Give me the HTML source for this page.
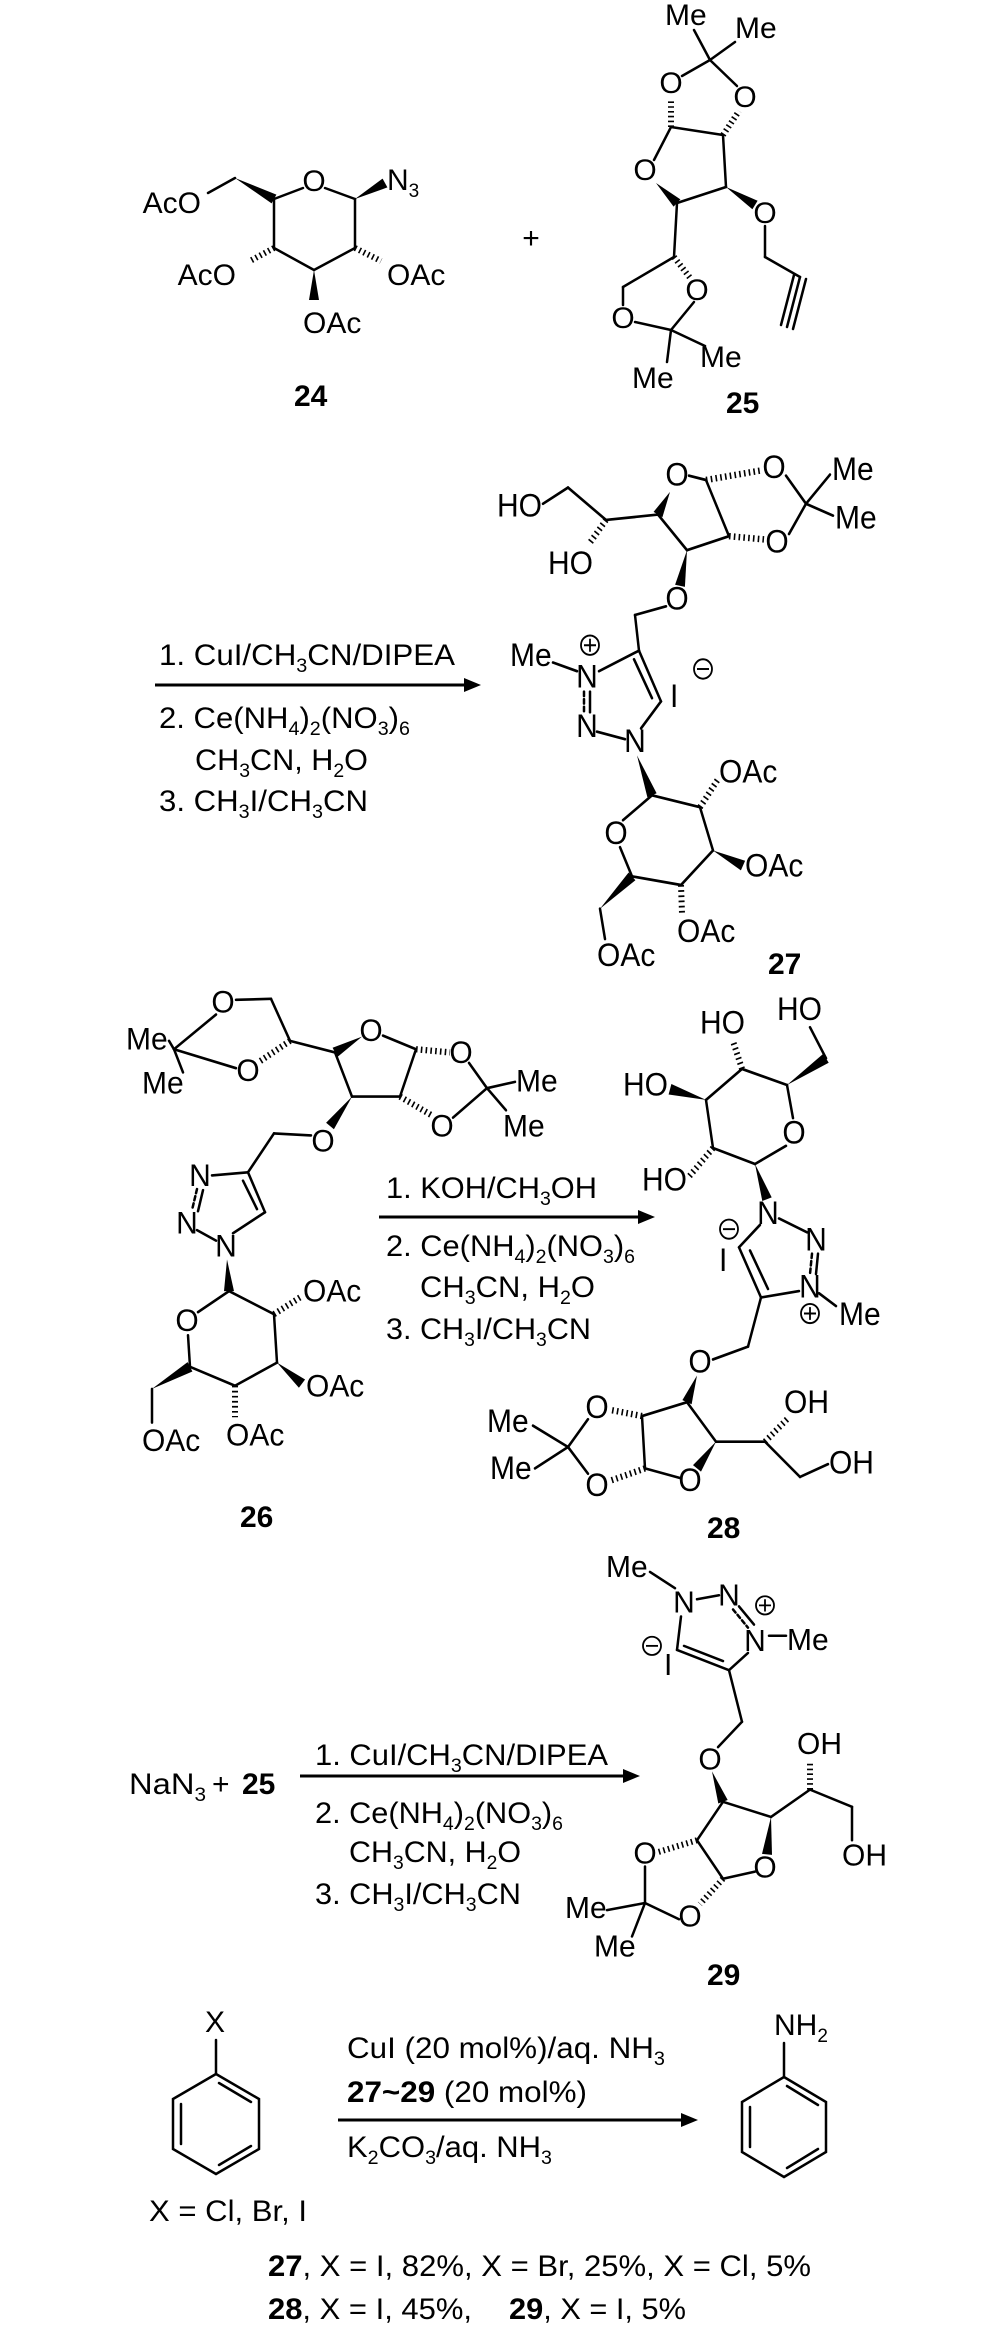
<!DOCTYPE html>
<html><head><meta charset="utf-8"><style>
html,body{margin:0;padding:0;background:#fff}
svg{display:block}
text{font-family:"Liberation Sans",sans-serif;font-size:30px;fill:#000}
.b{font-weight:bold}
.ln{stroke:#000;stroke-width:2.5;fill:none;stroke-linecap:round}
.hs{stroke:#000;stroke-width:6;stroke-dasharray:1.6 3.2;fill:none}
.ch{stroke:#000;stroke-width:1.8;fill:none}
</style></head><body>
<svg width="1000" height="2325" viewBox="0 0 1000 2325" xmlns="http://www.w3.org/2000/svg">

<!-- ===== 24 ===== -->
<g>
<g class="ln">
<line x1="303" y1="188" x2="274" y2="199"/><line x1="325" y1="188" x2="355" y2="199"/>
<line x1="274" y1="199" x2="274" y2="248"/><line x1="355" y1="199" x2="355" y2="248"/>
<line x1="274" y1="248" x2="314" y2="270"/><line x1="355" y1="248" x2="314" y2="270"/>
<line x1="235" y1="178" x2="208" y2="193"/>
</g>
<polygon points="235,178 271.6,203.4 276.4,194.6"/>
<polygon points="355,199 387.4,187.4 382.6,178.6"/>
<polygon points="314,270 309,300 319,300"/>
<g class="hs"><line x1="274" y1="248" x2="250" y2="261"/><line x1="355" y1="248" x2="381" y2="261"/></g>
<text x="314" y="191" text-anchor="middle">O</text>
<text x="201" y="213" text-anchor="end">AcO</text>
<text x="387" y="190">N<tspan font-size="19" dy="7">3</tspan></text>
<text x="236" y="285" text-anchor="end">AcO</text>
<text x="387" y="285">OAc</text>
<text x="303" y="333">OAc</text>
<text x="294" y="406" class="b">24</text>
<text x="531" y="248" text-anchor="middle">+</text>
</g>

<!-- ===== 25 ===== -->
<g>
<g class="ln">
<line x1="710" y1="60" x2="694" y2="30"/><line x1="710" y1="60" x2="735" y2="42"/>
<line x1="710" y1="60" x2="682" y2="76"/><line x1="710" y1="60" x2="737" y2="86"/>
<line x1="671" y1="127" x2="723" y2="135"/><line x1="723" y1="135" x2="726" y2="187"/>
<line x1="726" y1="187" x2="677" y2="203"/><line x1="654" y1="160" x2="671" y2="127"/>
<line x1="765" y1="226" x2="765" y2="257"/><line x1="765" y1="257" x2="800" y2="277"/>
<line x1="800" y1="277" x2="787" y2="327"/><line x1="806" y1="279" x2="793" y2="329"/><line x1="794" y1="275" x2="781" y2="325"/>
<line x1="677" y1="203" x2="674" y2="257"/><line x1="674" y1="257" x2="623" y2="287"/>
<line x1="623" y1="287" x2="623" y2="305"/><line x1="635" y1="322" x2="671" y2="330"/>
<line x1="694" y1="302" x2="671" y2="330"/><line x1="671" y1="330" x2="705" y2="346"/>
<line x1="671" y1="330" x2="667" y2="362"/>
</g>
<polygon points="656,183 673.6,206.6 680.4,199.4"/>
<polygon points="726,187 752.4,209.3 757.6,200.7"/>
<g class="hs"><line x1="671" y1="127" x2="671" y2="99"/><line x1="723" y1="135" x2="739" y2="111"/><line x1="674" y1="257" x2="691" y2="279"/></g>
<text x="665" y="25">Me</text><text x="735" y="38">Me</text>
<text x="671" y="93" text-anchor="middle">O</text><text x="745" y="107" text-anchor="middle">O</text>
<text x="645" y="180" text-anchor="middle">O</text><text x="765" y="223" text-anchor="middle">O</text>
<text x="697" y="300" text-anchor="middle">O</text><text x="623" y="328" text-anchor="middle">O</text>
<text x="700" y="367">Me</text><text x="632" y="388">Me</text>
<text x="726" y="413" class="b">25</text>
</g>

<!-- ===== 27 ===== -->
<g transform="matrix(1 0 0 1.08 0 -33)">
<g class="ln">
<line x1="543" y1="497" x2="568" y2="482"/><line x1="568" y1="482" x2="606" y2="512"/>
<line x1="606" y1="512" x2="658" y2="507"/>
<line x1="689" y1="471" x2="706" y2="475"/><line x1="706" y1="475" x2="729" y2="527"/>
<line x1="729" y1="527" x2="687" y2="540"/><line x1="687" y1="540" x2="658" y2="507"/>
<line x1="786" y1="471" x2="806" y2="497"/><line x1="789" y1="525" x2="806" y2="497"/>
<line x1="806" y1="497" x2="830" y2="470"/><line x1="806" y1="497" x2="833" y2="508"/>
<line x1="666" y1="592" x2="635" y2="600"/><line x1="635" y1="600" x2="639" y2="633"/>
<line x1="639" y1="633" x2="599" y2="652"/>
<line x1="584" y1="671" x2="584" y2="690" stroke-dasharray="4 3"/><line x1="590" y1="671" x2="590" y2="690"/>
<line x1="597" y1="708" x2="625" y2="715"/><line x1="641" y1="705" x2="661" y2="680"/>
<line x1="661" y1="680" x2="639" y2="633"/><line x1="652" y1="677" x2="634" y2="641"/>
<line x1="553" y1="644" x2="577" y2="652"/>
<line x1="652" y1="767" x2="700" y2="778"/><line x1="700" y1="778" x2="713" y2="818"/>
<line x1="713" y1="818" x2="681" y2="850"/><line x1="681" y1="850" x2="632" y2="842"/>
<line x1="632" y1="842" x2="620" y2="815"/><line x1="623" y1="790" x2="652" y2="767"/>
<line x1="600" y1="872" x2="605" y2="900"/>
</g>
<polygon points="670,486 653.6,504.5 662.4,509.5"/>
<polygon points="687,540 675.1,572 684.9,574"/>
<polygon points="637,730 647.4,768.9 656.6,765.1"/>
<polygon points="713,818 740.9,836.5 745.1,827.5"/>
<polygon points="600,872 635.4,845.6 628.6,838.4"/>
<g class="hs">
<line x1="606" y1="512" x2="590" y2="533"/><line x1="706" y1="475" x2="762" y2="466"/><line x1="729" y1="527" x2="764" y2="530"/>
<line x1="700" y1="778" x2="718" y2="752"/><line x1="681" y1="850" x2="682" y2="876"/>
</g>
<g class="ch"><circle cx="590" cy="628" r="9"/><path d="M584 628h12M590 622v12"/>
<circle cx="703" cy="650" r="9"/><path d="M697 650h12"/></g>
<text x="497" y="509">HO</text><text x="548" y="562">HO</text>
<text x="677" y="480" text-anchor="middle">O</text><text x="774" y="473" text-anchor="middle">O</text>
<text x="777" y="542" text-anchor="middle">O</text>
<text x="832" y="475">Me</text><text x="835" y="520">Me</text>
<text x="677" y="595" text-anchor="middle">O</text>
<text x="510" y="647">Me</text>
<text x="587" y="667" text-anchor="middle">N</text><text x="587" y="713" text-anchor="middle">N</text>
<text x="635" y="727" text-anchor="middle">N</text>
<text x="670" y="685">I</text>
<text x="616" y="812" text-anchor="middle">O</text>
<text x="719" y="755">OAc</text><text x="745" y="842">OAc</text>
<text x="677" y="903">OAc</text><text x="597" y="925">OAc</text>
</g>
<text x="768" y="974" class="b">27</text>

<!-- reagents 27 -->
<line x1="155" y1="685" x2="468" y2="685" stroke="#000" stroke-width="3"/>
<polygon points="481,685 464,678 464,692"/>
<text x="159" y="665" textLength="296" lengthAdjust="spacingAndGlyphs">1. CuI/CH<tspan font-size="19" dy="7">3</tspan><tspan dy="-7">CN/DIPEA</tspan></text>
<text x="159" y="728" textLength="251" lengthAdjust="spacingAndGlyphs">2. Ce(NH<tspan font-size="19" dy="7">4</tspan><tspan dy="-7">)</tspan><tspan font-size="19" dy="7">2</tspan><tspan dy="-7">(NO</tspan><tspan font-size="19" dy="7">3</tspan><tspan dy="-7">)</tspan><tspan font-size="19" dy="7">6</tspan></text>
<text x="195" y="770" textLength="173" lengthAdjust="spacingAndGlyphs">CH<tspan font-size="19" dy="7">3</tspan><tspan dy="-7">CN, H</tspan><tspan font-size="19" dy="7">2</tspan><tspan dy="-7">O</tspan></text>
<text x="159" y="811" textLength="209" lengthAdjust="spacingAndGlyphs">3. CH<tspan font-size="19" dy="7">3</tspan><tspan dy="-7">I/CH</tspan><tspan font-size="19" dy="7">3</tspan><tspan dy="-7">CN</tspan></text>

<!-- ===== 26 ===== -->
<g transform="matrix(1 0 0 1.0515 0 -44.3)">
<g class="ln">
<line x1="236" y1="993" x2="271" y2="992"/><line x1="271" y1="992" x2="290" y2="1032"/>
<line x1="216" y1="1007" x2="174" y2="1040"/><line x1="236" y1="1058" x2="174" y2="1040"/>
<line x1="174" y1="1040" x2="169" y2="1032"/><line x1="174" y1="1040" x2="183" y2="1062"/>
<line x1="290" y1="1032" x2="335" y2="1043"/>
<line x1="383" y1="1027" x2="416" y2="1040"/><line x1="416" y1="1040" x2="400" y2="1085"/>
<line x1="400" y1="1085" x2="352" y2="1085"/><line x1="352" y1="1085" x2="335" y2="1043"/>
<line x1="469" y1="1053" x2="487" y2="1077"/><line x1="453" y1="1105" x2="487" y2="1077"/>
<line x1="487" y1="1077" x2="515" y2="1071"/><line x1="487" y1="1077" x2="506" y2="1098"/>
<line x1="311" y1="1122" x2="274" y2="1120"/><line x1="274" y1="1120" x2="248" y2="1157"/>
<line x1="248" y1="1157" x2="212" y2="1160"/>
<line x1="197" y1="1173" x2="192" y2="1193" stroke-dasharray="4 3"/><line x1="203" y1="1174" x2="198" y2="1194"/>
<line x1="197" y1="1212" x2="216" y2="1222"/><line x1="233" y1="1215" x2="265" y2="1195"/>
<line x1="265" y1="1195" x2="248" y2="1157"/><line x1="257" y1="1192" x2="243" y2="1165"/>
<line x1="229" y1="1270" x2="274" y2="1292"/><line x1="274" y1="1292" x2="277" y2="1338"/>
<line x1="277" y1="1338" x2="235" y2="1360"/><line x1="235" y1="1360" x2="190" y2="1342"/>
<line x1="190" y1="1342" x2="188" y2="1312"/><line x1="198" y1="1290" x2="229" y2="1270"/>
<line x1="152" y1="1363" x2="152" y2="1395"/>
</g>
<polygon points="362,1028 332.6,1038.6 337.4,1047.4"/>
<polygon points="352,1085 326.1,1109.9 333.9,1116.1"/>
<polygon points="227,1240 224,1270 234,1270"/>
<polygon points="277,1338 298.9,1361.9 305.1,1354.1"/>
<polygon points="152,1363 192.4,1346.4 187.6,1337.6"/>
<g class="hs">
<line x1="290" y1="1032" x2="259" y2="1052"/><line x1="416" y1="1040" x2="450" y2="1043"/><line x1="400" y1="1085" x2="432" y2="1103"/>
<line x1="274" y1="1292" x2="300" y2="1276"/><line x1="235" y1="1360" x2="235" y2="1390"/>
</g>
<text x="223" y="1005" text-anchor="middle">O</text><text x="248" y="1070" text-anchor="middle">O</text>
<text x="126" y="1040">Me</text><text x="142" y="1082">Me</text>
<text x="371" y="1032" text-anchor="middle">O</text><text x="461" y="1053" text-anchor="middle">O</text>
<text x="442" y="1123" text-anchor="middle">O</text>
<text x="516" y="1080">Me</text><text x="503" y="1123">Me</text>
<text x="323" y="1137" text-anchor="middle">O</text>
<text x="200" y="1170" text-anchor="middle">N</text><text x="187" y="1215" text-anchor="middle">N</text>
<text x="226" y="1237" text-anchor="middle">N</text>
<text x="187" y="1308" text-anchor="middle">O</text>
<text x="303" y="1280">OAc</text><text x="306" y="1370">OAc</text>
<text x="226" y="1417">OAc</text><text x="142" y="1422">OAc</text>
</g>
<text x="240" y="1527" class="b">26</text>

<!-- reagents 28 -->
<line x1="379" y1="1217" x2="642" y2="1217" stroke="#000" stroke-width="3"/>
<polygon points="655,1217 638,1210 638,1224"/>
<text x="386" y="1198" textLength="211" lengthAdjust="spacingAndGlyphs">1. KOH/CH<tspan font-size="19" dy="7">3</tspan><tspan dy="-7">OH</tspan></text>
<text x="386" y="1256" textLength="249" lengthAdjust="spacingAndGlyphs">2. Ce(NH<tspan font-size="19" dy="7">4</tspan><tspan dy="-7">)</tspan><tspan font-size="19" dy="7">2</tspan><tspan dy="-7">(NO</tspan><tspan font-size="19" dy="7">3</tspan><tspan dy="-7">)</tspan><tspan font-size="19" dy="7">6</tspan></text>
<text x="420" y="1297" textLength="175" lengthAdjust="spacingAndGlyphs">CH<tspan font-size="19" dy="7">3</tspan><tspan dy="-7">CN, H</tspan><tspan font-size="19" dy="7">2</tspan><tspan dy="-7">O</tspan></text>
<text x="386" y="1339" textLength="205" lengthAdjust="spacingAndGlyphs">3. CH<tspan font-size="19" dy="7">3</tspan><tspan dy="-7">I/CH</tspan><tspan font-size="19" dy="7">3</tspan><tspan dy="-7">CN</tspan></text>

<!-- ===== 28 ===== -->
<g transform="matrix(1 0 0 1.068 0 -61)">
<g class="ln">
<line x1="810" y1="1019" x2="826" y2="1048"/>
<line x1="787" y1="1073" x2="742" y2="1058"/><line x1="742" y1="1058" x2="706" y2="1087"/>
<line x1="706" y1="1087" x2="713" y2="1132"/><line x1="713" y1="1132" x2="755" y2="1147"/>
<line x1="787" y1="1073" x2="793" y2="1104"/><line x1="786" y1="1130" x2="755" y2="1147"/>
<line x1="779" y1="1198" x2="807" y2="1211"/>
<line x1="812" y1="1231" x2="810" y2="1250" stroke-dasharray="4 3"/><line x1="818" y1="1231" x2="816" y2="1250"/>
<line x1="799" y1="1266" x2="761" y2="1272"/><line x1="761" y1="1272" x2="739" y2="1225"/>
<line x1="768" y1="1264" x2="750" y2="1228"/><line x1="739" y1="1225" x2="760" y2="1204"/>
<line x1="819" y1="1268" x2="836" y2="1280"/>
<line x1="761" y1="1272" x2="748" y2="1318"/><line x1="748" y1="1318" x2="713" y2="1330"/>
<line x1="687" y1="1370" x2="716" y2="1407"/>
<line x1="680" y1="1441" x2="645" y2="1432"/><line x1="645" y1="1432" x2="642" y2="1383"/>
<line x1="642" y1="1383" x2="687" y2="1370"/>
<line x1="588" y1="1386" x2="568" y2="1412"/><line x1="588" y1="1437" x2="568" y2="1412"/>
<line x1="568" y1="1412" x2="533" y2="1392"/><line x1="568" y1="1412" x2="535" y2="1432"/>
<line x1="716" y1="1407" x2="765" y2="1407"/><line x1="765" y1="1407" x2="800" y2="1440"/>
<line x1="800" y1="1440" x2="828" y2="1428"/>
</g>
<polygon points="787,1073 828.7,1052.2 823.3,1043.8"/>
<polygon points="706,1087 671.4,1072.1 668.6,1081.9"/>
<polygon points="755,1147 762.3,1181.7 771.7,1178.3"/>
<polygon points="697,1345 682.4,1368.1 691.6,1371.9"/>
<polygon points="716,1407 693,1429 701,1435"/>
<g class="hs">
<line x1="742" y1="1058" x2="733" y2="1032"/><line x1="713" y1="1132" x2="688" y2="1160"/>
<line x1="642" y1="1383" x2="609" y2="1377"/><line x1="645" y1="1432" x2="609" y2="1444"/><line x1="765" y1="1407" x2="788" y2="1385"/>
</g>
<g class="ch"><circle cx="729" cy="1208" r="9"/><path d="M723 1208h12"/>
<circle cx="810" cy="1287" r="9"/><path d="M804 1287h12M810 1281v12"/></g>
<text x="777" y="1012">HO</text><text x="700" y="1025">HO</text>
<text x="623" y="1083">HO</text><text x="642" y="1172">HO</text>
<text x="794" y="1128" text-anchor="middle">O</text>
<text x="768" y="1203" text-anchor="middle">N</text><text x="816" y="1228" text-anchor="middle">N</text>
<text x="810" y="1272" text-anchor="middle">N</text>
<text x="719" y="1247">I</text>
<text x="839" y="1298">Me</text>
<text x="700" y="1342" text-anchor="middle">O</text>
<text x="690" y="1453" text-anchor="middle">O</text>
<text x="597" y="1385" text-anchor="middle">O</text><text x="597" y="1458" text-anchor="middle">O</text>
<text x="487" y="1398">Me</text><text x="490" y="1442">Me</text>
<text x="784" y="1380">OH</text><text x="829" y="1437">OH</text>
</g>
<text x="707" y="1538" class="b">28</text>

<!-- ===== 29 ===== -->
<g transform="matrix(1 0 0 1.0124 0 -17.5)">
<g class="ln">
<line x1="650" y1="1570" x2="675" y2="1586"/><line x1="697" y1="1597" x2="719" y2="1593"/>
<line x1="733" y1="1607" x2="748" y2="1625" stroke-dasharray="4 3"/><line x1="739" y1="1604" x2="754" y2="1622"/>
<line x1="769" y1="1633" x2="786" y2="1633"/><line x1="748" y1="1650" x2="729" y2="1667"/>
<line x1="729" y1="1667" x2="677" y2="1647"/><line x1="723" y1="1658" x2="684" y2="1643"/>
<line x1="677" y1="1647" x2="681" y2="1614"/>
<line x1="729" y1="1667" x2="742" y2="1718"/><line x1="742" y1="1718" x2="718" y2="1743"/>
<line x1="723" y1="1797" x2="771" y2="1812"/>
<line x1="755" y1="1866" x2="723" y2="1873"/><line x1="723" y1="1873" x2="697" y2="1835"/>
<line x1="697" y1="1835" x2="723" y2="1797"/>
<line x1="645" y1="1861" x2="645" y2="1897"/><line x1="679" y1="1913" x2="645" y2="1897"/>
<line x1="645" y1="1897" x2="607" y2="1904"/><line x1="645" y1="1897" x2="632" y2="1930"/>
<line x1="771" y1="1812" x2="810" y2="1785"/><line x1="810" y1="1785" x2="852" y2="1802"/>
<line x1="852" y1="1802" x2="852" y2="1835"/>
</g>
<polygon points="712,1767 718.3,1798.7 727.7,1795.3"/>
<polygon points="771,1812 762,1848.5 772,1849.5"/>
<g class="hs"><line x1="697" y1="1835" x2="657" y2="1847"/><line x1="723" y1="1873" x2="700" y2="1898"/><line x1="810" y1="1785" x2="810" y2="1758"/></g>
<g class="ch"><circle cx="765" cy="1603" r="9"/><path d="M759 1603h12M765 1597v12"/>
<circle cx="652" cy="1643" r="9"/><path d="M646 1643h12"/></g>
<text x="606" y="1575">Me</text>
<text x="684" y="1610" text-anchor="middle">N</text><text x="729" y="1603" text-anchor="middle">N</text>
<text x="755" y="1648" text-anchor="middle">N</text>
<text x="787" y="1647">Me</text>
<text x="664" y="1672">I</text>
<text x="710" y="1765" text-anchor="middle">O</text>
<text x="765" y="1872" text-anchor="middle">O</text>
<text x="645" y="1858" text-anchor="middle">O</text><text x="690" y="1920" text-anchor="middle">O</text>
<text x="565" y="1912">Me</text><text x="594" y="1950">Me</text>
<text x="797" y="1750">OH</text><text x="842" y="1860">OH</text>
</g>
<text x="707" y="1985" class="b">29</text>

<!-- reagents 29 -->
<text x="129" y="1794" textLength="77" lengthAdjust="spacingAndGlyphs">NaN<tspan font-size="19" dy="7">3</tspan></text>
<text x="212" y="1794">+</text>
<text x="242" y="1794" class="b">25</text>
<line x1="300" y1="1776" x2="627" y2="1776" stroke="#000" stroke-width="3"/>
<polygon points="640,1776 623,1769 623,1783"/>
<text x="315" y="1765" textLength="293" lengthAdjust="spacingAndGlyphs">1. CuI/CH<tspan font-size="19" dy="7">3</tspan><tspan dy="-7">CN/DIPEA</tspan></text>
<text x="315" y="1823" textLength="248" lengthAdjust="spacingAndGlyphs">2. Ce(NH<tspan font-size="19" dy="7">4</tspan><tspan dy="-7">)</tspan><tspan font-size="19" dy="7">2</tspan><tspan dy="-7">(NO</tspan><tspan font-size="19" dy="7">3</tspan><tspan dy="-7">)</tspan><tspan font-size="19" dy="7">6</tspan></text>
<text x="349" y="1862" textLength="172" lengthAdjust="spacingAndGlyphs">CH<tspan font-size="19" dy="7">3</tspan><tspan dy="-7">CN, H</tspan><tspan font-size="19" dy="7">2</tspan><tspan dy="-7">O</tspan></text>
<text x="315" y="1904" textLength="206" lengthAdjust="spacingAndGlyphs">3. CH<tspan font-size="19" dy="7">3</tspan><tspan dy="-7">I/CH</tspan><tspan font-size="19" dy="7">3</tspan><tspan dy="-7">CN</tspan></text>

<!-- ===== bottom ===== -->
<g class="ln">
<line x1="216" y1="2040" x2="216" y2="2074"/>
<polygon points="216,2074 259,2099 259,2149 216,2174 173,2149 173,2099"/>
<line x1="219" y1="2083" x2="251" y2="2102"/><line x1="181" y1="2104" x2="181" y2="2144"/><line x1="251" y1="2146" x2="219" y2="2165"/>
<line x1="784" y1="2043" x2="784" y2="2077"/>
<polygon points="784,2077 826,2102 826,2152 784,2177 742,2152 742,2102"/>
<line x1="787" y1="2086" x2="818" y2="2105"/><line x1="750" y1="2107" x2="750" y2="2147"/><line x1="818" y1="2149" x2="787" y2="2168"/>
</g>
<line x1="338" y1="2120" x2="685" y2="2120" stroke="#000" stroke-width="3"/>
<polygon points="698,2120 681,2113 681,2127"/>
<text x="205" y="2032">X</text>
<text x="774" y="2035">NH<tspan font-size="19" dy="7">2</tspan></text>
<text x="347" y="2058" textLength="318" lengthAdjust="spacingAndGlyphs">CuI (20 mol%)/aq. NH<tspan font-size="19" dy="7">3</tspan></text>
<text x="347" y="2102" textLength="240" lengthAdjust="spacingAndGlyphs"><tspan font-weight="bold">27~29</tspan> (20 mol%)</text>
<text x="347" y="2157" textLength="205" lengthAdjust="spacingAndGlyphs">K<tspan font-size="19" dy="7">2</tspan><tspan dy="-7">CO</tspan><tspan font-size="19" dy="7">3</tspan><tspan dy="-7">/aq. NH</tspan><tspan font-size="19" dy="7">3</tspan></text>
<text x="149" y="2221" textLength="158" lengthAdjust="spacingAndGlyphs">X = Cl, Br, I</text>
<text x="268" y="2276" textLength="543" lengthAdjust="spacingAndGlyphs"><tspan font-weight="bold">27</tspan>, X = I, 82%, X = Br, 25%, X = Cl, 5%</text>
<text x="268" y="2319" textLength="204" lengthAdjust="spacingAndGlyphs"><tspan font-weight="bold">28</tspan>, X = I, 45%,</text>
<text x="509" y="2319" textLength="177" lengthAdjust="spacingAndGlyphs"><tspan font-weight="bold">29</tspan>, X = I, 5%</text>
</svg>
</body></html>
